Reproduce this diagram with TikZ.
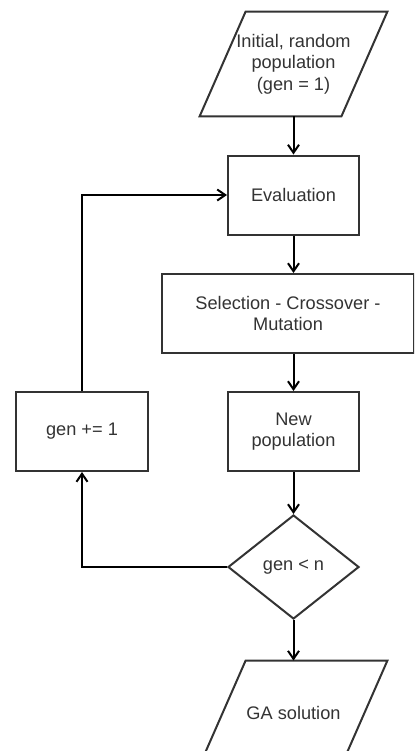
\documentclass[tikz,border=0pt]{standalone}
\usepackage{fontspec}
\setmainfont{Liberation Sans}
\usetikzlibrary{shapes.geometric,arrows.meta}

\begin{document}
\begin{tikzpicture}[x=0.5pt,y=-0.5pt]
\tikzset{every node/.style={align=center,font=\fontsize{9.1}{10.8}\selectfont,text=black!80}}
\tikzset{outline/.style={draw=black!80,line width=1pt,line join=miter}}
\tikzset{stepbox/.style={outline,minimum width=65.5pt,minimum height=39.5pt,inner sep=0pt}}
\tikzset{iobox/.style={minimum width=70.5pt,minimum height=52pt,inner sep=0pt}}
\tikzset{testbox/.style={outline,diamond,aspect=1.26,minimum width=65.5pt,minimum height=52pt,inner sep=0pt}}
\tikzset{flow/.style={line width=1pt,black,-{Straight Barb[length=4pt,width=5.5pt,line width=1pt]}}}
\clip (0,0) rectangle (414,751);
		\node[iobox] (init) at (293.5,64) {Initial, random\\population\\ (gen = 1)};
		\node[stepbox] (eval) at (293.5,195) {Evaluation};
		\node[stepbox,minimum width=126pt] (sel) at (288,313.5) {Selection - Crossover -\\Mutation};
		\node[stepbox] (newpop) at (293.5,431.5) {New\\population};
		\node[testbox] (test) at (293.5,567) {gen < n};
		\node[stepbox,minimum width=66pt] (incr) at (82,431.5) {gen += 1};
		\node[iobox] (sol) at (293.5,713) {GA solution};
\foreach \io in {init,sol}
	\draw[outline] ([xshift=11.5pt]\io.north west) -- ([xshift=11.5pt]\io.north east) -- ([xshift=-11.5pt]\io.south east) -- ([xshift=-11.5pt]\io.south west) -- cycle;
\draw[flow] (init.south) -- (eval);
\draw[flow] (eval) -- (eval|-sel.north);
\draw[flow] (eval|-sel.south) -- (newpop);
\draw[flow] (newpop) -- (test);
\draw[flow] (test) -- (sol.north);
\draw[flow] (test.west) -| (incr);
\draw[flow] (incr) |- (eval);
\end{tikzpicture}
\end{document}
